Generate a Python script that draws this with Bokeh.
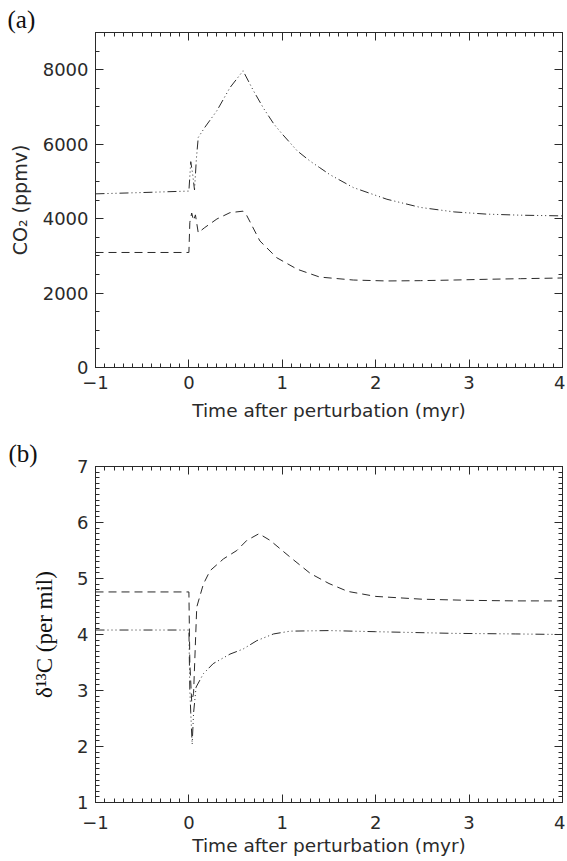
from bokeh.plotting import figure
from bokeh.models import Range1d, LinearAxis, SingleIntervalTicker, CustomJSTickFormatter
from bokeh.layouts import column
from bokeh.embed import file_html
from bokeh.resources import INLINE

# ---------------- data ----------------
# Panel (a): CO2 (ppmv)
a_hi_t = [-1.0, -0.5, 0.0, 0.02, 0.04, 0.06, 0.08, 0.10, 0.17, 0.30, 0.44, 0.58,
          0.69, 0.80, 0.91, 1.0, 1.16, 1.30, 1.40, 1.51, 1.76, 2.12, 2.48, 2.84,
          3.19, 3.55, 4.0]
a_hi_v = [4665, 4700, 4740, 5530, 5200, 4770, 5600, 6180, 6450, 6900, 7520, 7970,
          7440, 6960, 6540, 6270, 5820, 5540, 5370, 5180, 4835, 4520, 4300, 4180,
          4120, 4092, 4073]

a_lo_t = [-1.0, 0.0, 0.01, 0.03, 0.05, 0.07, 0.10, 0.17, 0.30, 0.44, 0.58, 0.62,
          0.76, 0.94, 1.16, 1.40, 1.76, 2.12, 2.48, 2.84, 3.19, 3.55, 4.0]
a_lo_v = [3090, 3090, 3900, 4150, 3950, 4100, 3620, 3760, 3990, 4160, 4200, 4080,
          3400, 2950, 2640, 2430, 2350, 2325, 2333, 2350, 2370, 2386, 2405]

# Panel (b): delta13C (per mil)
b_dash_t = [-1.0, 0.0, 0.01, 0.03, 0.05, 0.084, 0.155, 0.227, 0.37, 0.513, 0.62,
            0.75, 0.87, 1.085, 1.30, 1.50, 1.70, 2.0, 2.5, 3.0, 3.5, 4.0]
b_dash_v = [4.76, 4.76, 3.5, 2.8, 2.95, 4.49, 4.9, 5.14, 5.35, 5.50, 5.68,
            5.80, 5.68, 5.38, 5.09, 4.91, 4.77, 4.68, 4.63, 4.61, 4.60, 4.60]

b_dd_t = [-1.0, 0.0, 0.01, 0.02, 0.035, 0.05, 0.077, 0.155, 0.26, 0.44, 0.58,
          0.727, 0.906, 1.085, 1.5, 2.0, 2.84, 3.5, 4.0]
b_dd_v = [4.08, 4.08, 3.0, 2.6, 2.04, 2.6, 3.06, 3.30, 3.48, 3.65, 3.74,
          3.89, 4.01, 4.06, 4.07, 4.05, 4.02, 4.01, 4.0]

x_title = "Time after perturbation (myr)"
a_ylabel = "CO\u2082 (ppmv)"
b_ylabel = "\u03b4\u00b9\u00b3C (per mil)"
a_tag = "(a)"
b_tag = "(b)"

# ---------------- styling ----------------
INK = "#2a2a2a"
SANS = "DejaVu Sans"
SERIF = "Liberation Serif"
DASH = "8 5"
DDD = "9 3 1 3 1 3 1 3"


def style_axis(ax, ticker, labels=True, standoff=5):
    ax.ticker = ticker
    ax.axis_line_color = INK
    ax.axis_line_width = 1
    ax.major_tick_line_color = INK
    ax.minor_tick_line_color = INK
    ax.major_tick_in = 8
    ax.major_tick_out = 0
    ax.minor_tick_in = 4
    ax.minor_tick_out = 0
    ax.major_label_text_font = SANS
    ax.major_label_text_font_size = "18px"
    ax.major_label_text_color = INK
    ax.major_label_standoff = standoff
    ax.axis_label_text_font_style = "normal"
    if not labels:
        ax.formatter = CustomJSTickFormatter(code="return ''")
        ax.major_label_standoff = 0
        ax.major_label_text_font_size = "1px"


def make_panel(height, left, top, bottom, yr, yint, ynminor, xstand, tstand, tag, tag_off):
    p = figure(width=565, height=height, x_range=Range1d(-1, 4),
               y_range=Range1d(*yr), output_backend="svg", toolbar_location=None,
               min_border_left=left, min_border_right=3, min_border_top=top,
               min_border_bottom=bottom)
    p.grid.visible = False
    p.outline_line_color = INK
    p.title.text = tag
    p.title.text_font = SERIF
    p.title.text_font_size = "25px"
    p.title.text_font_style = "normal"
    p.title.text_color = "#111"
    p.title.align = "left"
    p.title.offset = tag_off
    p.title.standoff = 0
    p.add_layout(LinearAxis(), "above")
    p.add_layout(LinearAxis(), "right")
    for ax in p.below:
        style_axis(ax, SingleIntervalTicker(interval=1, num_minor_ticks=10), True, xstand)
        ax.axis_label = x_title
        ax.axis_label_text_font = SANS
        ax.axis_label_text_font_size = "18.5px"
        ax.axis_label_text_color = INK
        ax.axis_label_standoff = tstand
    for ax in p.above:
        style_axis(ax, SingleIntervalTicker(interval=1, num_minor_ticks=10), False)
    for ax in p.left:
        style_axis(ax, SingleIntervalTicker(interval=yint, num_minor_ticks=ynminor), True, 7)
    for ax in p.right:
        style_axis(ax, SingleIntervalTicker(interval=yint, num_minor_ticks=ynminor), False)
    return p


# Panel (a)
pa = make_panel(428, 95, 32, 61, (0, 9000), 2000, 4, 8, 8, a_tag, -88)
pa.yaxis[0].axis_label = a_ylabel
pa.yaxis[0].axis_label_text_font = SANS
pa.yaxis[0].axis_label_text_font_size = "19px"
pa.yaxis[0].axis_label_text_color = INK
pa.yaxis[0].axis_label_standoff = 9
pa.line(a_hi_t, a_hi_v, line_color=INK, line_width=1, line_dash=DDD)
pa.line(a_lo_t, a_lo_v, line_color=INK, line_width=1, line_dash=DASH)

# Panel (b)
pb = make_panel(433, 94, 38, 59, (1, 7), 1, 10, 13, 3, b_tag, -87)
pb.yaxis[0].axis_label = b_ylabel
pb.yaxis[0].axis_label_text_font = SERIF
pb.yaxis[0].axis_label_text_font_size = "23px"
pb.yaxis[0].axis_label_text_color = "#111"
pb.yaxis[0].axis_label_standoff = 17
pb.line(b_dash_t, b_dash_v, line_color=INK, line_width=1, line_dash=DASH)
pb.line(b_dd_t, b_dd_v, line_color=INK, line_width=1, line_dash=DDD)

layout = column(pa, pb, spacing=0)
open("out.html", "w").write(file_html(layout, INLINE))
